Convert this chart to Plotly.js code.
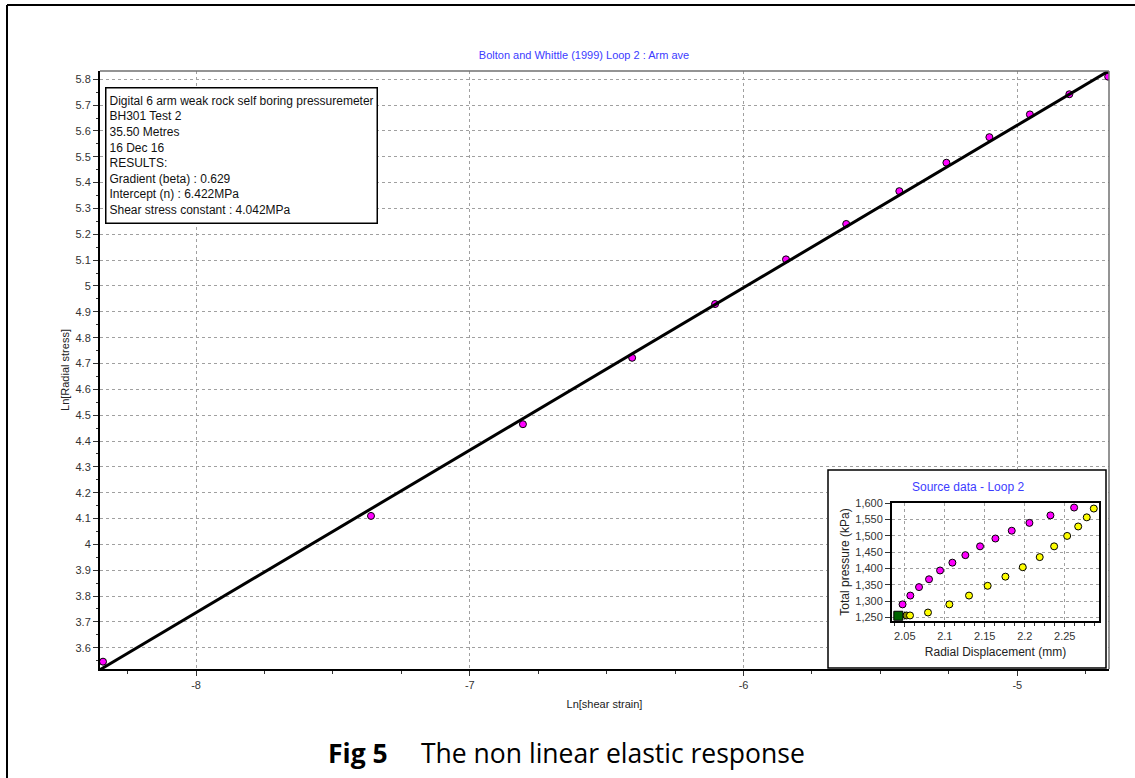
<!DOCTYPE html>
<html>
<head>
<meta charset="utf-8">
<script src="https://cdn.plot.ly/plotly-3.0.1.min.js"></script>
<style>
  html, body { margin: 0; padding: 0; background: #fff; }
  #chart { position: absolute; left: 0; top: 0; width: 1135px; height: 778px; }
  #inset { position: absolute; left: 827px; top: 469px; width: 280px; height: 200px; }
</style>
</head>
<body>
<div id="chart"></div>
<div id="inset"></div>
<script>
// ---------- Data ----------
// Main chart: Ln[shear strain] vs Ln[Radial stress]
const strainLn = [-8.340, -7.361, -6.806, -6.407, -6.104, -5.845, -5.625, -5.431, -5.259, -5.102, -4.954, -4.810, -4.668];
const stressLn = [3.546, 4.110, 4.465, 4.722, 4.930, 5.103, 5.240, 5.367, 5.477, 5.576, 5.664, 5.742, 5.810];

// Fitted line end points (gradient 0.629, intercept 6.422 MPa)
const fitX = [-8.351, -4.665];
const fitY = [3.515, 5.833];

// Main axis ticks
const xTickVals = [-8, -7, -6, -5];
const xTickText = ['-8', '-7', '-6', '-5'];
const yTickVals = [3.6, 3.7, 3.8, 3.9, 4.0, 4.1, 4.2, 4.3, 4.4, 4.5, 4.6, 4.7, 4.8, 4.9, 5.0, 5.1, 5.2, 5.3, 5.4, 5.5, 5.6, 5.7, 5.8];
const yTickText = ['3.6', '3.7', '3.8', '3.9', '4', '4.1', '4.2', '4.3', '4.4', '4.5', '4.6', '4.7', '4.8', '4.9', '5', '5.1', '5.2', '5.3', '5.4', '5.5', '5.6', '5.7', '5.8'];

// Inset: source data - loop 2 (Radial displacement mm vs total pressure kPa)
const loadDisp = [2.0472, 2.0569, 2.0678, 2.0803, 2.0941, 2.1095, 2.1257, 2.1441, 2.1633, 2.1837, 2.2058, 2.2321, 2.2617];
const loadPress = [1290, 1317, 1343, 1367, 1394, 1418, 1441, 1468, 1492, 1516, 1540, 1563, 1587];
const unloadDisp = [2.0565, 2.0790, 2.1057, 2.1303, 2.1536, 2.1758, 2.1975, 2.2187, 2.2367, 2.2530, 2.2668, 2.2775, 2.2863];
const unloadPress = [1256, 1265, 1290, 1317, 1347, 1375, 1404, 1435, 1468, 1500, 1529, 1557, 1584];
const hiddenDisp = [2.0520];
const hiddenPress = [1256];
const startDisp = [2.0419];
const startPress = [1255];

const insetXTickVals = [2.05, 2.10, 2.15, 2.20, 2.25];
const insetXTickText = ['2.05', '2.1', '2.15', '2.2', '2.25'];
const insetYTickVals = [1250, 1300, 1350, 1400, 1450, 1500, 1550, 1600];
const insetYTickText = ['1,250', '1,300', '1,350', '1,400', '1,450', '1,500', '1,550', '1,600'];

const infoLines = [
  'Digital 6 arm weak rock self boring pressuremeter',
  'BH301 Test 2',
  '35.50 Metres',
  '16 Dec 16',
  'RESULTS:',
  'Gradient (beta) : 0.629',
  'Intercept (n) : 6.422MPa',
  'Shear stress constant : 4.042MPa'
];

// ---------- Layout helpers (pixel -> paper) ----------
const W = 1135, H = 778;
const PL = 100, PR = 1109, PT = 71, PB = 669;
const xp = px => (px - PL) / (PR - PL);
const yp = py => (PB - py) / (PB - PT);

const FONT = 'Liberation Sans, Arial, sans-serif';
const CAPFONT = 'Open Sans, Noto Sans, sans-serif';
const TICKC = '#333333';
const GRIDC = '#a0a0a0';
const BLUE = '#3c3cff';

const mainTraces = [
  {
    x: strainLn, y: stressLn,
    type: 'scatter', mode: 'markers', showlegend: false,
    marker: { color: '#ff00ff', size: 7, line: { color: '#000', width: 1 } }
  },
  {
    x: fitX, y: fitY,
    type: 'scatter', mode: 'lines', showlegend: false,
    line: { color: '#000', width: 3 }
  }
];

const mainLayout = {
  width: W, height: H,
  margin: { l: PL, r: W - PR, t: PT, b: H - PB, pad: 0 },
  paper_bgcolor: 'rgba(0,0,0,0)', plot_bgcolor: '#fff',
  showlegend: false,
  font: { family: FONT, size: 11, color: TICKC },
  title: {
    text: 'Bolton and Whittle (1999) Loop 2 : Arm ave',
    font: { family: FONT, size: 11, color: BLUE },
    x: 584 / W, xanchor: 'center', xref: 'container',
    y: 1 - 55 / H, yanchor: 'middle', yref: 'container'
  },
  xaxis: {
    range: [-8.351, -4.665], autorange: false,
    tickvals: xTickVals, ticktext: xTickText,
    ticks: 'outside', ticklen: 5, tickcolor: TICKC, tickwidth: 1,
    minor: { dtick: 0.25, tick0: 0, ticks: 'outside', ticklen: 3, tickcolor: TICKC, showgrid: false },
    showline: true, linecolor: '#000', linewidth: 2, mirror: false,
    showgrid: true, gridcolor: GRIDC, gridwidth: 1, griddash: '3px,3px',
    zeroline: false,
    tickfont: { family: FONT, size: 11, color: TICKC },
    title: { text: 'Ln[shear strain]', font: { family: FONT, size: 11, color: '#222' }, standoff: 10 },
    automargin: false
  },
  yaxis: {
    range: [3.5176, 5.832], autorange: false,
    tickvals: yTickVals, ticktext: yTickText,
    ticks: 'outside', ticklen: 5, tickcolor: TICKC, tickwidth: 1,
    minor: { dtick: 0.05, tick0: 0, ticks: 'outside', ticklen: 2, tickcolor: TICKC, showgrid: false },
    showline: true, linecolor: '#000', linewidth: 2, mirror: false,
    showgrid: true, gridcolor: GRIDC, gridwidth: 1, griddash: '3px,3px',
    zeroline: false,
    tickfont: { family: FONT, size: 11, color: TICKC },
    title: { text: 'Ln[Radial stress]', font: { family: FONT, size: 11, color: '#222' }, standoff: 4 },
    automargin: false
  },
  shapes: [
    // main plot top and right frame
    { type: 'line', xref: 'paper', yref: 'paper', x0: 0, x1: 1, y0: 1, y1: 1, line: { color: '#707070', width: 1.5 }, layer: 'above' },
    { type: 'line', xref: 'paper', yref: 'paper', x0: 1, x1: 1, y0: 0, y1: 1, line: { color: '#707070', width: 1.5 }, layer: 'above' },
    // outer figure frame (left and top)
    { type: 'line', xref: 'paper', yref: 'paper', x0: xp(7), x1: xp(7), y0: yp(5), y1: yp(790), line: { color: '#000', width: 2 }, layer: 'above' },
    { type: 'line', xref: 'paper', yref: 'paper', x0: xp(7), x1: xp(1145), y0: yp(5), y1: yp(5), line: { color: '#000', width: 2 }, layer: 'above' }
  ],
  annotations: [
    {
      text: infoLines.join('<br>'),
      xref: 'paper', yref: 'paper', x: xp(105), y: yp(86.7),
      xanchor: 'left', yanchor: 'top', align: 'left', valign: 'middle',
      width: 264, height: 128,
      showarrow: false, bgcolor: '#fff', bordercolor: '#000', borderwidth: 1.5, borderpad: 3,
      font: { family: FONT, size: 12, color: '#111' }
    },
    {
      text: '<b>Fig 5</b>',
      xref: 'paper', yref: 'paper', x: xp(326), y: yp(753),
      xanchor: 'left', yanchor: 'middle', showarrow: false,
      font: { family: CAPFONT, size: 26.5, color: '#000' }
    },
    {
      text: 'The non linear elastic response',
      xref: 'paper', yref: 'paper', x: xp(419), y: yp(753),
      xanchor: 'left', yanchor: 'middle', showarrow: false,
      font: { family: CAPFONT, size: 26.5, color: '#000' }
    }
  ]
};

// ---------- Inset chart ----------
const IW = 280, IH = 200, IX = 827, IY = 469;
const IL = 892, IR = 1099, IT = 503, IB = 621;
const ixp = px => (px - IL) / (IR - IL);
const iyp = py => (IB - py) / (IB - IT);

const insetTraces = [
  {
    x: loadDisp, y: loadPress,
    type: 'scatter', mode: 'markers', showlegend: false,
    marker: { color: '#ff00ff', size: 7, line: { color: '#000', width: 1 } }
  },
  {
    x: hiddenDisp, y: hiddenPress,
    type: 'scatter', mode: 'markers', showlegend: false,
    marker: { color: '#8c8c00', size: 7, line: { color: '#000', width: 1 } }
  },
  {
    x: unloadDisp, y: unloadPress,
    type: 'scatter', mode: 'markers', showlegend: false,
    marker: { color: '#ffff00', size: 7, line: { color: '#000', width: 1 } }
  },
  {
    x: startDisp, y: startPress,
    type: 'scatter', mode: 'markers', showlegend: false,
    marker: { color: '#006400', size: 9, symbol: 'square', line: { color: '#000', width: 1 } }
  }
];

const insetLayout = {
  width: IW, height: IH,
  margin: { l: IL - IX, r: IX + IW - IR, t: IT - IY, b: IY + IH - IB, pad: 0 },
  paper_bgcolor: '#fff', plot_bgcolor: '#fff',
  showlegend: false,
  font: { family: FONT, size: 11, color: TICKC },
  xaxis: {
    range: [2.034, 2.2928], autorange: false,
    tickvals: insetXTickVals, ticktext: insetXTickText,
    ticks: 'outside', ticklen: 4, tickcolor: TICKC,
    minor: { dtick: 0.0125, tick0: 0, ticks: 'outside', ticklen: 3, tickcolor: TICKC, showgrid: false },
    showline: true, linecolor: '#000', linewidth: 2, mirror: true,
    showgrid: true, gridcolor: GRIDC, gridwidth: 1, griddash: '3px,3px',
    zeroline: false,
    tickfont: { family: FONT, size: 11, color: TICKC },
    title: { text: 'Radial Displacement (mm)', font: { family: FONT, size: 12, color: '#222' }, standoff: 6 },
    automargin: false
  },
  yaxis: {
    range: [1239, 1601], autorange: false,
    tickvals: insetYTickVals, ticktext: insetYTickText,
    ticks: 'outside', ticklen: 5, tickcolor: TICKC,
    showline: true, linecolor: '#000', linewidth: 2, mirror: true,
    showgrid: true, gridcolor: GRIDC, gridwidth: 1, griddash: '3px,3px',
    zeroline: false,
    tickfont: { family: FONT, size: 11, color: TICKC },
    title: { text: 'Total pressure (kPa)', font: { family: FONT, size: 12, color: '#222' }, standoff: 3 },
    automargin: false
  },
  shapes: [
    {
      type: 'rect', xref: 'paper', yref: 'paper', layer: 'above',
      x0: ixp(IX + 1), x1: ixp(IX + IW - 1), y0: iyp(IY + IH - 1), y1: iyp(IY + 1),
      fillcolor: 'rgba(0,0,0,0)', line: { color: '#000', width: 1.5 }
    }
  ],
  annotations: [
    {
      text: 'Source data - Loop 2',
      xref: 'paper', yref: 'paper', x: ixp(967.5), y: iyp(486.7),
      xanchor: 'center', yanchor: 'middle', showarrow: false,
      font: { family: FONT, size: 12, color: BLUE }
    }
  ]
};

Plotly.newPlot('chart', mainTraces, mainLayout, { displayModeBar: false, staticPlot: true });
Plotly.newPlot('inset', insetTraces, insetLayout, { displayModeBar: false, staticPlot: true });
</script>
</body>
</html>
